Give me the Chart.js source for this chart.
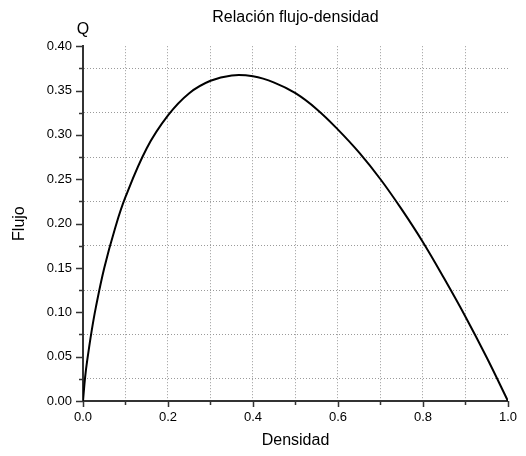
<!DOCTYPE html>
<html>
<head>
<meta charset="utf-8">
<script src="https://cdn.jsdelivr.net/npm/chart.js@4/dist/chart.umd.min.js"></script>
<style>
  html, body { margin: 0; padding: 0; background: #fff; }
  #wrap { width: 526px; height: 456px; }
</style>
</head>
<body>
<div id="wrap"><canvas id="flujoChart"></canvas></div>
<script>
// densidad (x) y flujo (y)
const densidad = [0, 0.005, 0.01, 0.02, 0.03, 0.05, 0.075, 0.1, 0.15, 0.2, 0.25, 0.3, 0.35, 0.4,
  0.45, 0.5, 0.55, 0.6, 0.65, 0.7, 0.75, 0.8, 0.85, 0.9, 0.95, 1.0];
const flujo = [0, 0.027, 0.046, 0.078, 0.105, 0.15, 0.194, 0.23, 0.285, 0.322, 0.347, 0.361, 0.367, 0.366,
  0.359, 0.347, 0.329, 0.306, 0.28, 0.25, 0.216, 0.179, 0.138, 0.095, 0.049, 0];
const xTicks = [0, 0.2, 0.4, 0.6, 0.8, 1.0];
const yTicks = [0, 0.05, 0.10, 0.15, 0.20, 0.25, 0.30, 0.35, 0.40];

const FONT = 'Arial, "Liberation Sans", sans-serif';
const axisColor = '#333';
const gridColor = '#9a9a9a';

// ticks cortos hacia fuera + letra Q
const axisMarks = {
  id: 'axisMarks',
  afterDraw(chart) {
    const c = chart.ctx;
    const xs = chart.scales.x, ys = chart.scales.y;
    c.save();
    c.strokeStyle = axisColor;
    c.lineWidth = 1.5;
    c.beginPath();
    xs.ticks.forEach((t, i) => {
      const px = Math.round(xs.getPixelForValue(t.value)) + 0.5;
      const len = i % 2 === 0 ? 6 : 4;
      c.moveTo(px, xs.top);
      c.lineTo(px, xs.top + len);
    });
    ys.ticks.forEach((t, i) => {
      const py = Math.round(ys.getPixelForValue(t.value)) + 0.5;
      const len = i % 2 === 0 ? 7 : 4;
      c.moveTo(ys.right, py);
      c.lineTo(ys.right - len, py);
    });
    c.stroke();
    c.fillStyle = '#000';
    c.font = '16px ' + FONT;
    c.textAlign = 'center';
    c.textBaseline = 'middle';
    c.fillText('Q', ys.right, 30);
    c.restore();
  }
};

new Chart(document.getElementById('flujoChart'), {
  type: 'line',
  data: {
    datasets: [{
      data: densidad.map((d, i) => ({ x: d, y: flujo[i] })),
      borderColor: '#000',
      borderWidth: 2,
      pointRadius: 0,
      fill: false,
      tension: 0.4
    }]
  },
  options: {
    responsive: true,
    maintainAspectRatio: false,
    animation: false,
    layout: { padding: { left: 0, right: 18, top: 0, bottom: 0 } },
    plugins: {
      legend: { display: false },
      tooltip: { enabled: false },
      title: {
        display: true,
        text: 'Relación flujo-densidad',
        fullSize: false,
        color: '#000',
        font: { family: FONT, size: 16, weight: 'normal' },
        padding: { top: 8, bottom: 19 }
      }
    },
    scales: {
      x: {
        type: 'linear',
        min: 0,
        max: 1,
        afterFit: s => { s.height = 55; },
        ticks: {
          stepSize: 0.1,
          color: '#000',
          padding: 9,
          maxRotation: 0,
          autoSkip: false,
          font: { family: FONT, size: 13 },
          callback: (v, i) => xTicks.some(t => Math.abs(t - v) < 1e-6) ? Number(v).toFixed(1) : ''
        },
        grid: {
          drawTicks: false,
          lineWidth: 1,
          color: c => (c.index === 0 || c.index === 10) ? 'rgba(0,0,0,0)' : gridColor
        },
        border: { display: true, color: axisColor, width: 2, dash: [1, 2] },
        title: {
          display: true,
          text: 'Densidad',
          color: '#000',
          font: { family: FONT, size: 16 },
          padding: { top: 4, bottom: 6 }
        }
      },
      y: {
        min: 0,
        max: 0.4,
        afterFit: s => { s.width = 83; },
        ticks: {
          stepSize: 0.025,
          color: '#000',
          padding: 11,
          autoSkip: false,
          font: { family: FONT, size: 13 },
          callback: (v, i) => yTicks.some(t => Math.abs(t - v) < 1e-6) ? Number(v).toFixed(2) : ''
        },
        grid: {
          drawTicks: false,
          lineWidth: 1,
          color: c => (c.index % 2 === 0) ? 'rgba(0,0,0,0)' : gridColor
        },
        border: { display: true, color: axisColor, width: 2, dash: [1, 2] },
        title: {
          display: true,
          text: 'Flujo',
          color: '#000',
          font: { family: FONT, size: 16 },
          padding: { top: 10, bottom: 6 }
        }
      }
    }
  },
  plugins: [axisMarks]
});
</script>
</body>
</html>
